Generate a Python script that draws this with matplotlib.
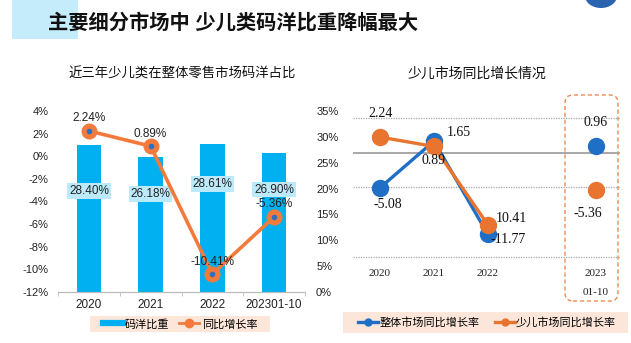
import matplotlib
matplotlib.use('Agg')
import matplotlib.pyplot as plt
from matplotlib.patches import Rectangle, FancyBboxPatch, Ellipse
from matplotlib.lines import Line2D

plt.rcParams['font.family'] = ['Liberation Sans', 'Noto Sans CJK SC']
plt.rcParams['axes.unicode_minus'] = False

# ---- data ----
left_years = ['2020', '2021', '2022', '202301-10']
ratio_share = [28.40, 26.18, 28.61, 26.90]        # 码洋比重 (%), right axis
yoy_growth = [2.24, 0.89, -10.41, -5.36]          # 同比增长率 (%), left axis

right_years = ['2020', '2021', '2022', '2023']
total_growth = [-5.08, 1.65, -11.77, 0.96]        # 整体市场同比增长率
kids_growth = [2.24, 0.89, -10.41, -5.36]         # 少儿市场同比增长率
total_labels = ['-5.08', '1.65', '-11.77', '0.96']
kids_labels = ['2.24', '0.89', '10.41', '-5.36']

# ---- layout helpers ----
W, H = 631, 343
BAR_C = '#00B0F0'
LINE_C = '#F47A3C'
BLUE = '#1F6FC6'
ORANGE = '#E8742F'


def fx(x):
    return x / W


def fy(y):
    return 1 - y / H


fig = plt.figure(figsize=(W / 100, H / 100), dpi=100)

# title block
fig.patches.append(Rectangle((fx(12), fy(39)), fx(66), 39 / H, transform=fig.transFigure,
                             facecolor='#C5ECFB', edgecolor='none', zorder=0))
fig.text(fx(48), fy(23), '主要细分市场中 少儿类码洋比重降幅最大', fontsize=14.6,
         fontweight='bold', va='center', ha='left', color='#111111')
fig.patches.append(Ellipse((fx(601), fy(-4)), fx(32), 24 / H, transform=fig.transFigure,
                           facecolor='#2A64B0', edgecolor='none'))

fig.text(fx(182), fy(74), '近三年少儿类在整体零售市场码洋占比', fontsize=9.6,
         ha='center', va='center', color='#111111')
fig.text(fx(477), fy(74), '少儿市场同比增长情况', fontsize=10,
         ha='center', va='center', color='#111111')

# ---- left chart ----
ax1 = fig.add_axes([fx(58), fy(292), (305 - 58) / W, (292 - 111) / H])
ax2 = ax1.twinx()
xs = list(range(len(left_years)))

ax2.bar(xs, ratio_share, width=0.4, color=BAR_C, zorder=1)
ax2.set_ylim(0, 35)
ax2.set_yticks(range(0, 36, 5))
ax2.set_yticklabels([f'{v}%' for v in range(0, 36, 5)], fontsize=8, color='#222222')
ax2.tick_params(axis='y', length=0, pad=8)
ratio_label_y = [19.5, 18.95, 20.9, 19.8]
for x, v, ly in zip(xs, ratio_share, ratio_label_y):
    ax2.text(x, ly, f'{v:.2f}%', ha='center', va='center', fontsize=8.5, color='#222222',
             bbox=dict(boxstyle='square,pad=0.15', facecolor='#BDEAFA', edgecolor='none'),
             zorder=3)

ax1.set_zorder(ax2.get_zorder() + 1)
ax1.patch.set_visible(False)
ax1.plot(xs, yoy_growth, color=LINE_C, lw=2.6, marker='o', markersize=10.5,
         markerfacecolor=LINE_C, markeredgecolor=LINE_C, zorder=4)
ax1.plot(xs, yoy_growth, ls='none', marker='o', markersize=3, color='#2D6FC0', zorder=5)
for x, v in zip(xs, yoy_growth):
    ax1.annotate(f'{v:.2f}%', (x, v), xytext=(0, 12.5), textcoords='offset pixels',
                 ha='center', va='center', fontsize=8.5, color='#222222', zorder=6)
ax1.set_ylim(-12, 4)
ax1.set_xlim(-0.5, 3.5)
ax1.set_yticks(range(-12, 5, 2))
ax1.set_yticklabels([f'{v}%' for v in range(-12, 5, 2)], fontsize=8, color='#222222')
ax1.tick_params(axis='y', length=0, pad=7)
ax1.set_xticks(xs)
ax1.set_xticklabels(left_years, fontsize=8.5, color='#222222')
ax1.set_xticks([-0.5, 0.5, 1.5, 2.5, 3.5], minor=True)
ax1.tick_params(axis='x', which='major', length=0, pad=5)
ax1.tick_params(axis='x', which='minor', length=3, color='#BBBBBB')
for a in (ax1, ax2):
    for s in ('top', 'left', 'right'):
        a.spines[s].set_visible(False)
    a.spines['bottom'].set_color('#BBBBBB')

# left legend
fig.patches.append(Rectangle((fx(90), fy(332)), fx(180), 16 / H, transform=fig.transFigure,
                             facecolor='#FCE6DA', edgecolor='none', zorder=0))
h1 = [Line2D([], [], color=BAR_C, lw=4.5),
      Line2D([], [], color=LINE_C, lw=2, marker='o', markersize=6)]
fig.legend(h1, ['码洋比重', '同比增长率'], loc='center', bbox_to_anchor=(fx(180), fy(324)),
           ncol=2, frameon=False, fontsize=8, handlelength=1.8, handletextpad=0.2,
           columnspacing=0.9, borderpad=0)

# ---- right chart ----
ax3 = fig.add_axes([fx(353), fy(292), (620 - 353) / W, (292 - 111) / H])
rx = [0, 1, 2, 4]
for g in [5, -5, -15]:
    ax3.axhline(g, color='#A6A6A6', lw=0.9, ls=(0, (1, 1)), zorder=1)
ax3.axhline(0, color='#A0A0A0', lw=1.3, zorder=1)

ax3.plot(rx[:3], total_growth[:3], color=BLUE, lw=2.4, zorder=3)
ax3.plot(rx, total_growth, ls='none', marker='o', markersize=11.5, color=BLUE, zorder=3)
ax3.plot(rx[:3], kids_growth[:3], color=ORANGE, lw=2.4, zorder=4)
ax3.plot(rx, kids_growth, ls='none', marker='o', markersize=11.5, color=ORANGE, zorder=4)

total_off = [(8, -16.6), (25, 8.6), (20, -5), (0, 23.4)]
kids_off = [(1, 23.4), (0, -14.4), (24, 6.7), (-7.5, -23.4)]
for x, v, t, o in zip(rx, total_growth, total_labels, total_off):
    arrow = None
    if t == '1.65':
        arrow = dict(arrowstyle='-', color='#888888', lw=0.6, shrinkA=1, shrinkB=6)
    ax3.annotate(t, (x, v), xytext=o, textcoords='offset pixels', ha='center', va='center',
                 fontsize=10, family='Liberation Serif', color='#111111', zorder=6,
                 arrowprops=arrow)
for x, v, t, o in zip(rx, kids_growth, kids_labels, kids_off):
    ax3.annotate(t, (x, v), xytext=o, textcoords='offset pixels', ha='center', va='center',
                 fontsize=10, family='Liberation Serif', color='#111111', zorder=6)

for x, t in zip(rx, right_years):
    ax3.text(x, -17.5, t, ha='center', va='center', fontsize=8,
             family='Liberation Serif', color='#222222')
ax3.text(rx[3], -20.2, '01-10', ha='center', va='center', fontsize=8,
         family='Liberation Serif', color='#222222', clip_on=False)

ax3.set_xlim(-0.5, 4.45)
ax3.set_ylim(-20.1, 6.0)
ax3.axis('off')

fig.patches.append(FancyBboxPatch((5.65, (H - 301) / 100), 0.53, 2.06,
                                  boxstyle='round,pad=0,rounding_size=0.08',
                                  transform=fig.dpi_scale_trans, facecolor='none',
                                  edgecolor='#EE8A55', lw=1, ls=(0, (3, 2))))

# right legend
fig.patches.append(Rectangle((fx(343), fy(333)), fx(285), 21 / H, transform=fig.transFigure,
                             facecolor='#FCE6DA', edgecolor='none', zorder=0))
h2 = [Line2D([], [], color=BLUE, lw=2.4, marker='o', markersize=5),
      Line2D([], [], color=ORANGE, lw=2.4, marker='o', markersize=5)]
fig.legend(h2, ['整体市场同比增长率', '少儿市场同比增长率'], loc='center',
           bbox_to_anchor=(fx(487), fy(322.5)), ncol=2, frameon=False, fontsize=8,
           handlelength=1.8, handletextpad=0.1, columnspacing=1.4, borderpad=0)

fig.savefig('out.png', dpi=100)
